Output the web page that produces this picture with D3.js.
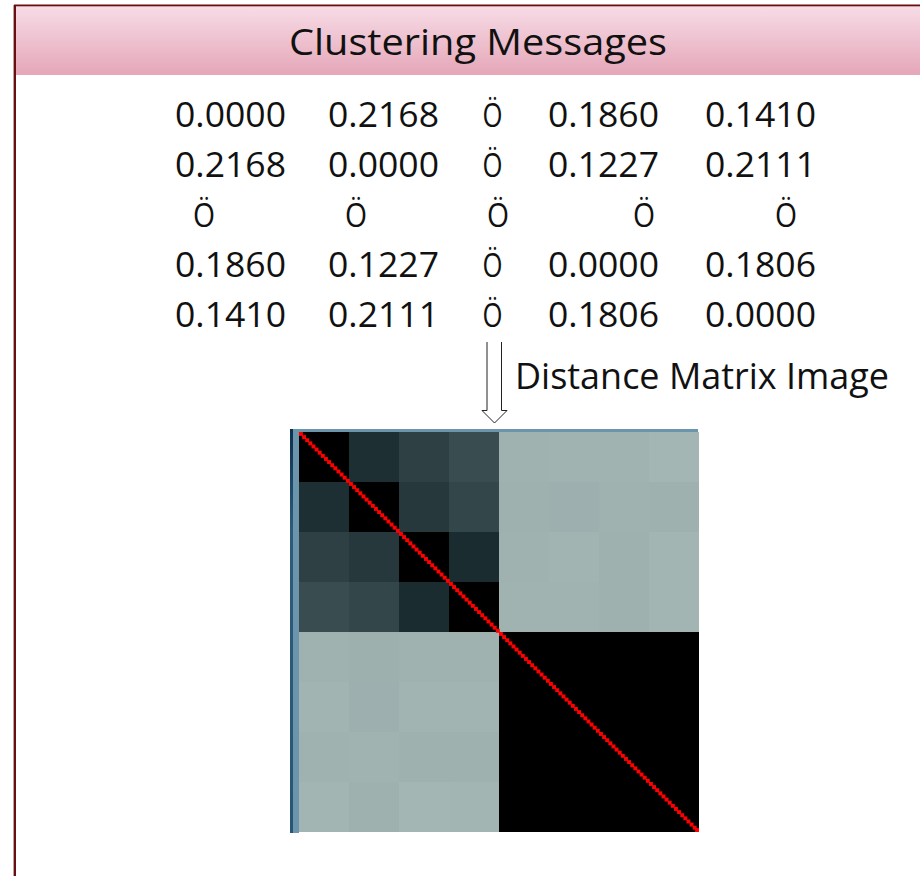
<!DOCTYPE html>
<html>
<head>
<meta charset="utf-8">
<script src="https://cdn.jsdelivr.net/npm/d3@7/dist/d3.min.js"></script>
<style>
  html, body { margin: 0; padding: 0; background: #ffffff; }
  svg { display: block; }
</style>
</head>
<body>
<script>
// ---------------- DATA ----------------
const titleText = "Clustering Messages";
const arrowLabel = "Distance Matrix Image";
const ellipsisGlyph = "\u00D6"; // "Ö"

// distance matrix shown as text (null = elided entry shown as "Ö")
const matrixRow1 = [0.0000, 0.2168, null, 0.1860, 0.1410];
const matrixRow2 = [0.2168, 0.0000, null, 0.1227, 0.2111];
const matrixRow3 = [null, null, null, null, null];
const matrixRow4 = [0.1860, 0.1227, null, 0.0000, 0.1806];
const matrixRow5 = [0.1410, 0.2111, null, 0.1806, 0.0000];
const matrixRows = [matrixRow1, matrixRow2, matrixRow3, matrixRow4, matrixRow5];

// distance matrix image: 8x8 blocks, normalised distance (0 = black, 1 = light)
const blockRow0 = [0.000, 0.170, 0.270, 0.340, 0.970, 0.976, 0.976, 0.994];
const blockRow1 = [0.170, 0.000, 0.220, 0.300, 0.963, 0.951, 0.970, 0.963];
const blockRow2 = [0.270, 0.220, 0.000, 0.150, 0.970, 0.982, 0.963, 0.988];
const blockRow3 = [0.340, 0.300, 0.150, 0.000, 0.976, 0.976, 0.963, 0.988];
const blockRow4 = [0.970, 0.957, 0.970, 0.970, 0.000, 0.000, 0.000, 0.000];
const blockRow5 = [0.982, 0.951, 0.982, 0.982, 0.000, 0.000, 0.000, 0.000];
const blockRow6 = [0.970, 0.976, 0.963, 0.963, 0.000, 0.000, 0.000, 0.000];
const blockRow7 = [0.988, 0.963, 0.994, 0.988, 0.000, 0.000, 0.000, 0.000];
const blockRows = [blockRow0, blockRow1, blockRow2, blockRow3, blockRow4, blockRow5, blockRow6, blockRow7];

// number of individual messages along the diagonal (red self-distance cells)
const messageCount = 128;

// ---------------- LAYOUT ----------------
const W = 920, H = 876;
const svg = d3.select("body").append("svg").attr("width", W).attr("height", H);

const defs = svg.append("defs");
const grad = defs.append("linearGradient").attr("id", "barGrad")
  .attr("x1", 0).attr("y1", 0).attr("x2", 0).attr("y2", 1);
grad.append("stop").attr("offset", "0%").attr("stop-color", "#f7dde7");
grad.append("stop").attr("offset", "100%").attr("stop-color", "#e5a6b8");

const stripGrad = defs.append("linearGradient").attr("id", "stripGrad")
  .attr("x1", 0).attr("y1", 0).attr("x2", 0).attr("y2", 1);
stripGrad.append("stop").attr("offset", "0%").attr("stop-color", "#0c2f4e");
stripGrad.append("stop").attr("offset", "25%").attr("stop-color", "#2f5b7b");
stripGrad.append("stop").attr("offset", "100%").attr("stop-color", "#2b5575");

// frame + title bar
svg.append("rect").attr("x", 15).attr("y", 5).attr("width", W - 15).attr("height", 70)
  .attr("fill", "url(#barGrad)");
svg.append("rect").attr("x", 14).attr("y", 4.5).attr("width", W - 14).attr("height", 1.8)
  .attr("fill", "#6a0e10");
svg.append("rect").attr("x", 13).attr("y", 5).attr("width", 1).attr("height", H - 5)
  .attr("fill", "#b9a3a3");
svg.append("rect").attr("x", 14).attr("y", 5).attr("width", 2).attr("height", H - 5)
  .attr("fill", "#6a0e10");

const fontFam = "'Open Sans', 'Noto Sans', sans-serif";

svg.append("text").attr("x", 478).attr("y", 55)
  .attr("text-anchor", "middle")
  .attr("font-family", fontFam).attr("font-size", 36)
  .attr("textLength", 378).attr("lengthAdjust", "spacingAndGlyphs")
  .attr("fill", "#111").text(titleText);

// ---- matrix text ----
const fmt = d3.format(".4f");
const rowY = d3.scalePoint().domain(d3.range(matrixRows.length)).range([127, 327]);
const numLeft = [175, 328, 483, 548, 705];     // left edges of numeric columns
const elideCenter = [204, 356, 498, 644, 786]; // centres of the all-elided row

const textG = svg.append("g").attr("font-family", fontFam).attr("fill", "#111");
matrixRows.forEach((row, ri) => {
  const allNull = row.every(v => v === null);
  row.forEach((v, ci) => {
    const t = textG.append("text").attr("y", rowY(ri));
    if (v === null) {
      const cx = allNull ? elideCenter[ci] : numLeft[ci] + 9.5;
      t.attr("x", cx).attr("text-anchor", "middle").attr("font-size", 33)
        .attr("textLength", allNull ? 22 : 20).attr("lengthAdjust", "spacingAndGlyphs")
        .text(ellipsisGlyph);
    } else {
      t.attr("x", numLeft[ci]).attr("font-size", 35)
        .attr("textLength", 111).attr("lengthAdjust", "spacingAndGlyphs").text(fmt(v));
    }
  });
});

// ---- arrow ----
svg.append("path")
  .attr("d", "M487,342 L487,410.5 L482,410.5 L494.5,423 L507,410.5 L501.5,410.5 L501.5,342")
  .attr("fill", "#fff").attr("stroke", "#222").attr("stroke-width", 1);

svg.append("text").attr("x", 515).attr("y", 389)
  .attr("font-family", fontFam).attr("font-size", 36)
  .attr("textLength", 374).attr("lengthAdjust", "spacingAndGlyphs")
  .attr("fill", "#111").text(arrowLabel);

// ---- distance matrix image ----
const mx0 = 299, my0 = 432, msize = 400;
const bx = d3.scaleBand().domain(d3.range(blockRows.length)).range([mx0, mx0 + msize]);
const by = d3.scaleBand().domain(d3.range(blockRows.length)).range([my0, my0 + msize]);
const color = d3.scaleLinear()
  .domain([0, 0.15, 0.35, 1])
  .range(["#000000", "#1b2c30", "#3b4e52", "#a5b7b5"])
  .interpolate(d3.interpolateRgb)
  .clamp(true);

// frame strips
svg.append("rect").attr("x", 290).attr("y", 429).attr("width", 3).attr("height", 404)
  .attr("fill", "url(#stripGrad)");
svg.append("rect").attr("x", 293).attr("y", 429).attr("width", 6).attr("height", 404)
  .attr("fill", "#6b95ad");
svg.append("rect").attr("x", 293).attr("y", 429).attr("width", 405).attr("height", 3)
  .attr("fill", "#6b95ad");

const cells = [];
blockRows.forEach((row, r) => row.forEach((v, c) => cells.push({r, c, v})));
svg.append("g").attr("shape-rendering", "crispEdges")
  .selectAll("rect").data(cells).join("rect")
  .attr("x", d => bx(d.c)).attr("y", d => by(d.r))
  .attr("width", bx.bandwidth()).attr("height", by.bandwidth())
  .attr("fill", d => color(d.v));

const fx = d3.scaleBand().domain(d3.range(messageCount)).range([mx0, mx0 + msize]);
const fy = d3.scaleBand().domain(d3.range(messageCount)).range([my0, my0 + msize]);
const dotSize = fx.bandwidth() * 1.25;
svg.append("g")
  .selectAll("rect").data(d3.range(messageCount)).join("rect")
  .attr("x", i => Math.min(fx(i), mx0 + msize - dotSize)).attr("y", i => Math.min(fy(i), my0 + msize - dotSize))
  .attr("width", dotSize).attr("height", dotSize)
  .attr("fill", "#ff0000");
</script>
</body>
</html>
